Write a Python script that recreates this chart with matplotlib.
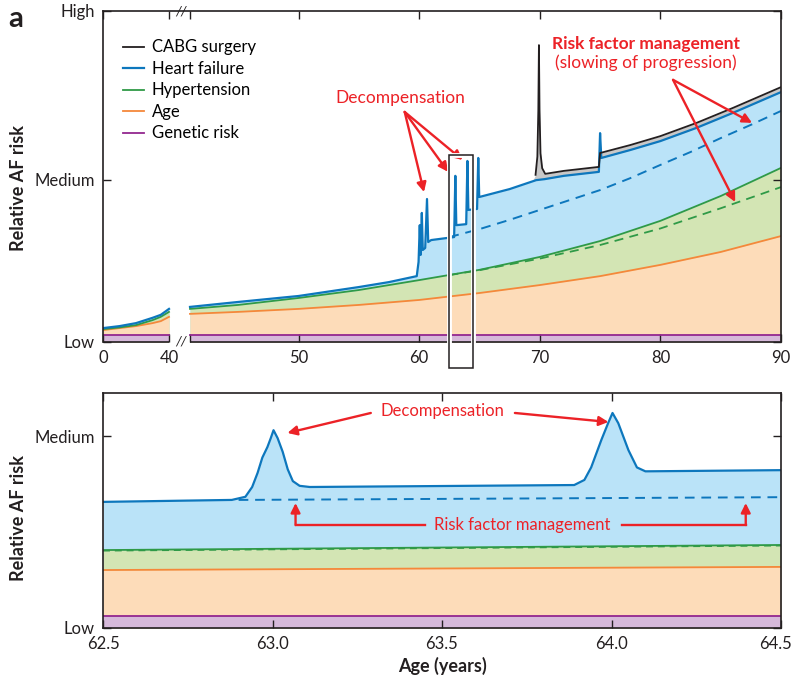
import matplotlib
matplotlib.use("Agg")
import matplotlib.pyplot as plt
import matplotlib.transforms as mtransforms
import numpy as np
from matplotlib.patches import Rectangle, ConnectionPatch

plt.rcParams['font.family'] = ['Lato', 'DejaVu Sans']

ink = '#231f20'
red = '#ec2227'
cabg_c, cabg_fill = '#231f20', '#c8c8c8'
hf_c, hf_fill = '#0d77bd', '#bae3f8'
htn_c, htn_fill = '#2f9a47', '#d3e5b4'
age_c, age_fill = '#f5883a', '#fddcb9'
gen_c, gen_fill = '#93278f', '#d6b9da'

# ---------------- top panel data (relative risk: Low=0, Medium=49, High=100)
gen_age = [0, 40, 41, 90]
gen_val = [2.2, 2.2, 2.2, 2.2]

agef_age = [0, 10, 20, 30, 35, 40, 41, 45, 50, 55, 60, 65, 70, 75, 80, 85, 90]
agef_val = [3.6, 4.2, 4.8, 5.7, 6.3, 7.6, 8.5, 9.1, 10.0, 11.2, 12.7, 14.8, 17.2, 19.9, 23.3, 27.2, 32.0]

htn_age = [0, 10, 20, 30, 35, 40, 41, 45, 50, 55, 60, 65, 70, 75, 80, 85, 90]
htn_val = [3.9, 4.4, 5.1, 6.6, 7.6, 9.1, 10.0, 11.2, 13.3, 15.7, 18.7, 21.8, 25.7, 30.5, 36.6, 44.1, 52.6]

htn_mgd_age = [62.5, 65, 70, 75, 80, 85, 90]
htn_mgd_val = [20.2, 21.7, 25.2, 29.3, 34.3, 40.4, 46.8]

hf_age = [0, 10, 20, 30, 35, 40,
          41, 45, 50, 55, 57.5, 59.8, 59.95, 60.05, 60.12, 60.22, 60.3, 60.5, 60.65, 60.75, 61.0,
          62.9, 63.0, 63.08, 63.9, 64.0, 64.08, 64.8, 64.9, 64.98, 67.5, 69.7, 70.4, 72,
          74.9, 75.0, 75.1, 77.5, 80, 83, 86, 90]
hf_val = [4.2, 4.8, 5.7, 7.3, 8.2, 10.0,
          10.6, 12.1, 13.9, 16.6, 18.1, 19.9, 24.2, 35.3, 26.3, 39.0, 27.8, 28.4, 43.2, 30.2, 30.8,
          31.7, 50.2, 35.3, 35.6, 54.7, 39.9, 40.2, 55.6, 43.8, 46.2, 48.9, 49.2, 50.2,
          51.4, 63.1, 55.6, 58.0, 60.7, 64.7, 69.2, 75.5]

hf_mgd_age = [62.5, 65, 67.5, 70, 72.5, 75, 77.5, 80, 82.5, 85, 87.5, 90]
hf_mgd_val = [31.7, 34.1, 36.9, 39.9, 42.9, 45.9, 49.5, 53.5, 57.4, 61.6, 65.6, 69.8]

cabg_age = [69.4, 69.65, 69.8, 69.88, 69.93, 69.98, 70.06, 70.2, 70.45, 72, 74.9, 75.0,
            77.5, 80, 83, 86, 90]
cabg_val = [48.6, 50.5, 56.0, 70.0, 89.7, 70.0, 57.0, 52.5, 50.8, 51.7, 52.9, 57.1,
            59.5, 62.2, 66.2, 70.7, 77.0]

top_ticks = [0, 40, 41, 50, 60, 70, 80, 90]
top_ticklabels = ['0', '40', '', '50', '60', '70', '80', '90']

# ---------------- bottom panel data (ages 62.5-64.5)
low_age = [62.5, 64.5]
low_gen = [3.1, 3.1]
low_agef = [14.8, 15.6]
low_htn = [19.9, 21.2]
low_htn_mgd = [19.7, 21.0]
low_hf_age = [62.5, 62.88, 62.92, 62.94, 62.956, 62.97, 62.985, 62.995, 63.003, 63.015, 63.03,
              63.045, 63.06, 63.08, 63.11, 63.89, 63.92, 63.94, 63.97, 63.99, 64.003, 64.02,
              64.05, 64.075, 64.1, 64.5]
low_hf_val = [32.2, 32.7, 33.5, 36.0, 39.6, 43.5, 46.2, 48.5, 50.5, 48.5, 45.0,
              40.5, 37.5, 36.3, 36.0, 36.5, 37.8, 41.0, 48.0, 52.3, 54.9, 52.3,
              45.4, 41.0, 40.0, 40.3]
low_hf_mgd_age = [62.9, 64.5]
low_hf_mgd_val = [32.7, 33.4]

risk_ticks = [0, 49, 100]
risk_labels = ['Low', 'Medium', 'High']

# broken x axis: 0-40 compressed, gap, 41-90
brk_age = [0, 40, 41, 90]
brk_pos = [0, 66, 87, 678]


def fwd(a):
    return np.interp(a, brk_age, brk_pos)


def inv(p):
    return np.interp(p, brk_pos, brk_age)


def pieces(x, y):
    x = np.asarray(x, float)
    y = np.asarray(y, float)
    out = []
    for m in (x <= 40, x >= 41):
        if m.sum() > 1:
            out.append((x[m], y[m]))
    return out


def red_arrow(a, tip, tail):
    a.annotate('', xy=tip, xytext=tail,
               arrowprops=dict(arrowstyle='-|>', color=red, lw=1.7, mutation_scale=14,
                               shrinkA=0, shrinkB=0))


fig = plt.figure(figsize=(7.94, 6.83), dpi=100)
ax = fig.add_axes([103 / 794, 1 - 342 / 683, 678 / 794, 331 / 683])
ax2 = fig.add_axes([103 / 794, 1 - 628 / 683, 678 / 794, 235 / 683])

ax.set_xscale('function', functions=(fwd, inv))

# stacked fills, top layer first
ax.fill_between(cabg_age, 0, cabg_val, color=cabg_fill, lw=0)
for (xa, ya) in pieces(hf_age, hf_val):
    ax.fill_between(xa, 0, ya, color=hf_fill, lw=0)
for (xa, ya) in pieces(htn_age, htn_val):
    ax.fill_between(xa, 0, ya, color=htn_fill, lw=0)
for (xa, ya) in pieces(agef_age, agef_val):
    ax.fill_between(xa, 0, ya, color=age_fill, lw=0)
for (xa, ya) in pieces(gen_age, gen_val):
    ax.fill_between(xa, 0, ya, color=gen_fill, lw=0)

h = {}
for (xa, ya) in pieces(gen_age, gen_val):
    h['gen'], = ax.plot(xa, ya, color=gen_c, lw=1.3)
for (xa, ya) in pieces(agef_age, agef_val):
    h['age'], = ax.plot(xa, ya, color=age_c, lw=1.3)
for (xa, ya) in pieces(htn_age, htn_val):
    h['htn'], = ax.plot(xa, ya, color=htn_c, lw=1.3)
ax.plot(htn_mgd_age, htn_mgd_val, color=htn_c, lw=1.3, ls=(0, (5, 3.5)))
ax.plot(hf_mgd_age, hf_mgd_val, color=hf_c, lw=1.4, ls=(0, (5, 3.5)))
for (xa, ya) in pieces(hf_age, hf_val):
    h['hf'], = ax.plot(xa, ya, color=hf_c, lw=1.6)
h['cabg'], = ax.plot(cabg_age[1:], cabg_val[1:], color=cabg_c, lw=1.3)

ax.set_xlim(0, 90)
ax.set_ylim(0, 100)
ax.set_xticks(top_ticks)
ax.set_xticklabels(top_ticklabels)
ax.set_yticks(risk_ticks)
ax.set_yticklabels(risk_labels)

# broken bottom spine with // marks
ax.spines['bottom'].set_visible(False)
ax.plot([0, 40], [0, 0], color=ink, lw=1.2, clip_on=False, solid_capstyle='butt')
ax.plot([41, 90], [0, 0], color=ink, lw=1.2, clip_on=False, solid_capstyle='butt')
for yb in (0, 100):
    ax.text(40.55, yb, '//', ha='center', va='center', fontsize=10, color=ink,
            clip_on=False, fontstyle='italic')

ax.legend([h['cabg'], h['hf'], h['htn'], h['age'], h['gen']],
          ['CABG surgery', 'Heart failure', 'Hypertension', 'Age', 'Genetic risk'],
          loc='upper left', bbox_to_anchor=(0.029, 0.914), frameon=False,
          fontsize=12, handlelength=1.3, handletextpad=0.45, labelspacing=0.33,
          borderpad=0, borderaxespad=0)

# annotations top
ax.text(58.4, 73.7, 'Decompensation', color=red, fontsize=12.5, ha='center', va='center')
for tip in [(60.4, 45.3), (62.4, 51.4), (63.6, 55.0)]:
    red_arrow(ax, tip, (58.8, 69.5))
ax.text(78.8, 90.0, 'Risk factor management', color=red, fontsize=12.5, ha='center',
        va='center', fontweight='bold')
ax.text(78.8, 84.3, '(slowing of progression)', color=red, fontsize=12.5, ha='center',
        va='center')
for tip in [(87.6, 66.2), (86.2, 42.3)]:
    red_arrow(ax, tip, (81.05, 79.2))

# zoom box
for ec, lw in (('white', 3.5), (ink, 1.1)):
    ax.add_patch(Rectangle((62.5, -7.9), 2.0, 64.4, fill=False, ec=ec, lw=lw,
                           clip_on=False, zorder=6))

# ---------------- bottom panel
ax2.fill_between(low_hf_age, 0, low_hf_val, color=hf_fill, lw=0)
ax2.fill_between(low_age, 0, low_htn, color=htn_fill, lw=0)
ax2.fill_between(low_age, 0, low_agef, color=age_fill, lw=0)
ax2.fill_between(low_age, 0, low_gen, color=gen_fill, lw=0)
ax2.plot(low_age, low_gen, color=gen_c, lw=1.3)
ax2.plot(low_age, low_agef, color=age_c, lw=1.3)
ax2.plot(low_age, low_htn, color=htn_c, lw=1.3)
ax2.plot(low_age, low_htn_mgd, color=htn_c, lw=1.0, ls=(0, (5, 3.5)))
ax2.plot(low_hf_mgd_age, low_hf_mgd_val, color=hf_c, lw=1.4, ls=(0, (5, 3.5)))
ax2.plot(low_hf_age, low_hf_val, color=hf_c, lw=1.6)

ax2.set_xlim(62.5, 64.5)
ax2.set_ylim(0, 60)
ax2.set_xticks([62.5, 63.0, 63.5, 64.0, 64.5])
ax2.set_xticklabels(['62.5', '63.0', '63.5', '64.0', '64.5'])
ax2.set_yticks(risk_ticks[:2])
ax2.set_yticklabels(risk_labels[:2])

ax2.text(63.5, 55.4, 'Decompensation', color=red, fontsize=12, ha='center', va='center')
red_arrow(ax2, (63.044, 49.8), (63.29, 54.9))
red_arrow(ax2, (63.991, 52.6), (63.715, 54.9))
ax2.text(63.737, 26.3, 'Risk factor management', color=red, fontsize=12, ha='center',
         va='center')
ax2.plot([63.45, 63.068], [26.3, 26.3], color=red, lw=1.7)
ax2.plot([64.03, 64.396], [26.3, 26.3], color=red, lw=1.7)
for xb in (63.068, 64.396):
    red_arrow(ax2, (xb, 31.9), (xb, 26.3))

# common styling
for a in (ax, ax2):
    for s in a.spines.values():
        s.set_color(ink)
        s.set_linewidth(1.2)
    a.tick_params(direction='in', length=6, width=1, colors=ink, labelsize=12,
                  top=True, right=True, pad=6)
    a.set_ylabel('Relative AF risk', fontsize=13, fontweight='bold', color=ink)

ax.yaxis.set_label_coords(-0.112, 0.465)
ax2.yaxis.set_label_coords(-0.112, 0.468)
ax2.set_xlabel('Age (years)', fontsize=13, fontweight='bold', color=ink)
ax2.xaxis.set_label_coords(0.5, -0.125)

# keep the last tick label inside the figure
last = ax2.get_xticklabels()[-1]
last.set_transform(last.get_transform() +
                   mtransforms.ScaledTranslation(-4 / 72, 0, fig.dpi_scale_trans))

# dashed connectors from zoom box to bottom panel
for xa, xb in ((62.5, 0), (64.5, 1)):
    con = ConnectionPatch(xyA=(xa, -7.9), coordsA='data', axesA=ax,
                          xyB=(xb, 1.005), coordsB='axes fraction', axesB=ax2,
                          color=ink, lw=1.0, ls=(0, (5, 4)))
    fig.add_artist(con)

fig.text(8 / 794, 1 - 27 / 683, 'a', fontsize=21, fontweight='bold', color=ink)

fig.savefig('out.png', dpi=100)
